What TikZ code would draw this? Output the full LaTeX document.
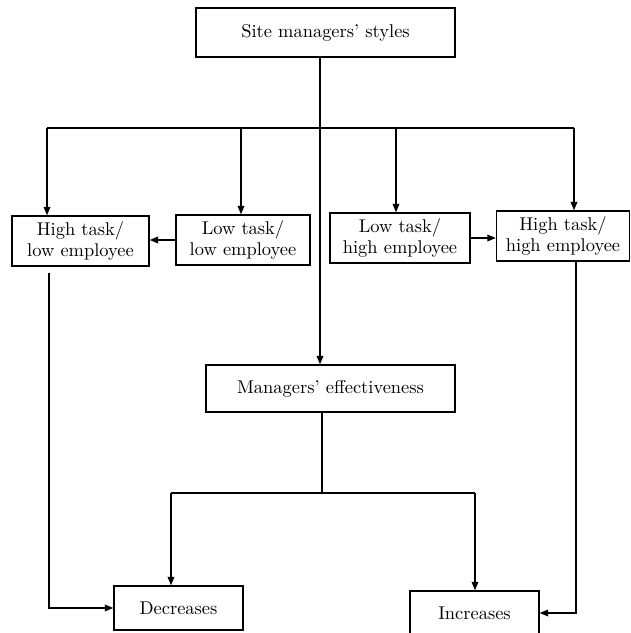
\documentclass[tikz,border=0pt]{standalone}
\usepackage{amsmath,amssymb}
\usepackage{xcolor}
\usepackage{tikz}
\usetikzlibrary{arrows.meta}

\begin{document}
\begin{tikzpicture}[scale=0.2,
  box/.style={draw=black, line width=0.8pt, inner sep=0pt, align=center, font=\fontsize{10.5}{12}\selectfont},
  arr/.style={line width=0.8pt, -{Triangle[length=4.8pt,width=3.8pt]}},
  wire/.style={line width=0.8pt}]
\useasboundingbox (0,0) rectangle (63,-63.3);
\node[box, minimum width=5.18cm, minimum height=0.98cm] (sms) at (32.55,-3.25) {Site managers' styles};
\node[box, minimum width=2.74cm, minimum height=1cm] (htle) at (8.05,-24.1) {High task/\\low employee};
\node[box, minimum width=2.68cm, minimum height=1cm] (ltle) at (24.3,-24.0) {Low task/\\low employee};
\node[box, minimum width=2.8cm, minimum height=1cm] (lthe) at (40.0,-23.8) {Low task/\\high employee};
\node[box, minimum width=2.66cm, minimum height=1cm] (hthe) at (56.3,-23.6) {High task/\\high employee};
\node[box, minimum width=4.98cm, minimum height=0.94cm] (me) at (33.05,-38.85) {Managers' effectiveness};
\node[box, minimum width=2.58cm, minimum height=0.88cm] (dec) at (17.85,-60.8) {Decreases};
\node[box, minimum width=2.58cm, minimum height=0.88cm] (inc) at (47.45,-61.3) {Increases};
\coordinate (spine) at (32.0,-12.8);
\coordinate (d1) at (4.7,-12.8);
\coordinate (d2) at (24.1,-12.8);
\coordinate (d3) at (39.6,-12.8);
\coordinate (d4) at (57.4,-12.8);
\coordinate (fl) at (4.9,0);
\coordinate (fr) at (57.6,0);
\coordinate (split) at (32.2,-49.3);
\coordinate (sl) at (17.1,-49.3);
\coordinate (sr) at (47.5,-49.3);
\draw [wire] (d1) -- (d4);
\draw [arr] (sms.south -| spine) -- (me.north -| spine);
\foreach \d/\n in {d1/htle,d2/ltle,d3/lthe,d4/hthe}
  \draw [arr] (\d) -- (\d |- \n.north);
\draw [arr] (ltle.west) -- (ltle.west -| htle.east);
\draw [arr] (lthe.east) -- (lthe.east -| hthe.west);
\draw [arr, shorten <=3.4pt] (htle.south -| fl) |- (dec.west);
\draw [arr] (hthe.south -| fr) |- (inc.east);
\draw [wire] (me.south -| split) -- (split);
\draw [wire] (sl) -- (sr);
\draw [arr] (sl) -- (sl |- dec.north);
\draw [arr] (sr) -- (sr |- inc.north);
\end{tikzpicture}
\end{document}
